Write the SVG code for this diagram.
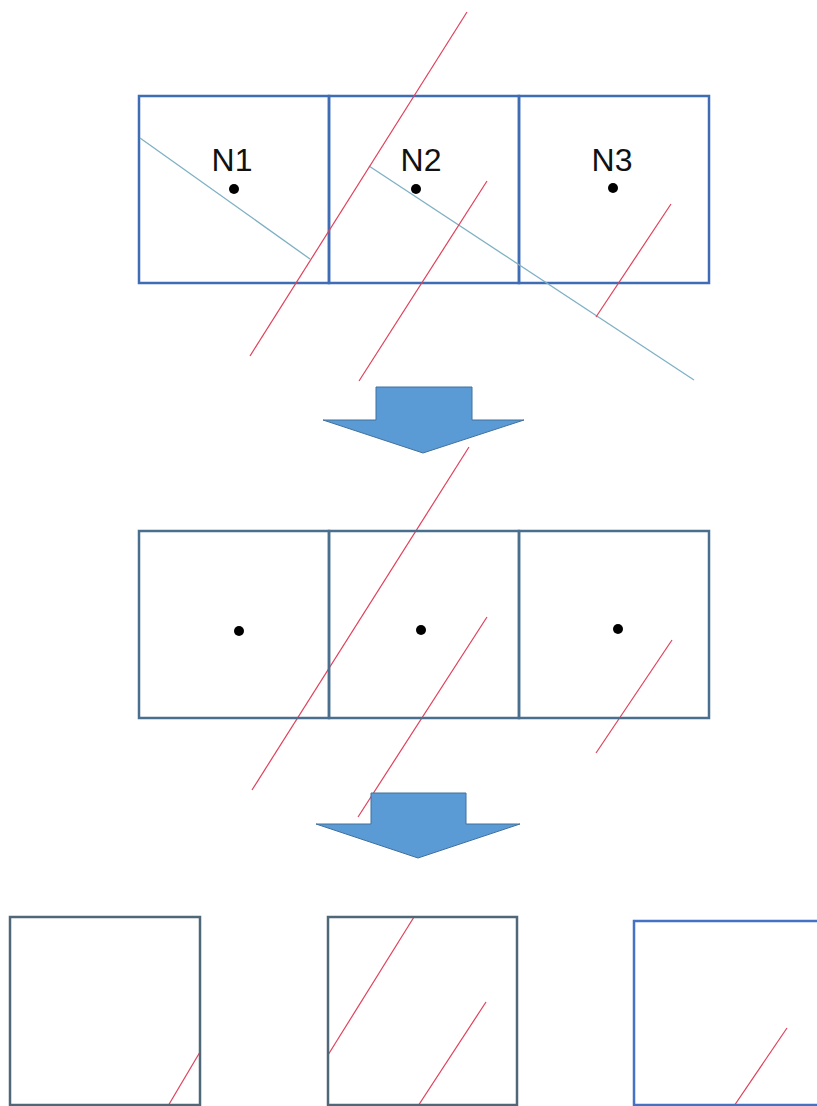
<svg xmlns="http://www.w3.org/2000/svg" width="817" height="1106" viewBox="0 0 817 1106">
<style>
.cellA{fill:none;stroke:#3f6db5;stroke-width:2.5}
.cellB{fill:none;stroke:#4a6f8e;stroke-width:2.5}
.cellC{fill:none;stroke:#4f6878;stroke-width:2.5}
.cellD{fill:none;stroke:#4472c4;stroke-width:2.5}
.red{stroke:#e0405a;stroke-width:1.2;fill:none}
.ray{stroke:#7fb0c4;stroke-width:1.3;fill:none}
.dot{fill:#000}
.lbl{font-family:"Liberation Sans",Arial,sans-serif;font-size:32px;fill:#111;text-anchor:middle}
.arrow{fill:#5b9bd5;stroke:#41719c;stroke-width:1}
</style>
<rect width="817" height="1106" fill="#fff"/>
<g id="top-grid">
  <g id="N1"><rect class="cellA" x="139" y="96" width="190" height="187"/><text class="lbl" x="232" y="171">N1</text><circle class="dot" cx="234" cy="189" r="5"/></g>
  <g id="N2"><rect class="cellA" x="329" y="96" width="190" height="187"/><text class="lbl" x="421" y="171">N2</text><circle class="dot" cx="416" cy="189" r="5"/></g>
  <g id="N3"><rect class="cellA" x="519" y="96" width="190" height="187"/><text class="lbl" x="612" y="171">N3</text><circle class="dot" cx="613" cy="188" r="5"/></g>
</g>
<g id="connectors">
  <line class="ray" x1="140" y1="138" x2="310" y2="259"/>
  <line class="ray" x1="369" y1="166" x2="694" y2="380"/>
  <line class="red" x1="467" y1="12" x2="250" y2="356"/>
  <line class="red" x1="487" y1="181" x2="359" y2="381"/>
  <line class="red" x1="671" y1="204" x2="596" y2="317"/>
  <line class="red" x1="469" y1="447" x2="252" y2="790"/>
  <line class="red" x1="487" y1="617" x2="358" y2="817"/>
  <line class="red" x1="672" y1="640" x2="596" y2="753"/>
  <line class="red" x1="200" y1="1052" x2="168" y2="1106"/>
  <line class="red" x1="414" y1="917" x2="328" y2="1055"/>
  <line class="red" x1="486" y1="1002" x2="418" y2="1106"/>
  <line class="red" x1="787" y1="1028" x2="734" y2="1106"/>
</g>
<g id="mid-grid">
  <g id="M1"><rect class="cellB" x="139" y="531" width="190" height="187"/><circle class="dot" cx="239" cy="631" r="5"/></g>
  <g id="M2"><rect class="cellB" x="329" y="531" width="190" height="187"/><circle class="dot" cx="421" cy="630" r="5"/></g>
  <g id="M3"><rect class="cellB" x="519" y="531" width="190" height="187"/><circle class="dot" cx="618" cy="629" r="5"/></g>
</g>
<g id="arrow1"><path class="arrow" d="M376,387 H472 V420 H524 L423,453 L323,420 H376 Z"/></g>
<g id="arrow2"><path class="arrow" d="M371,793 H466 V824 H520 L418,858 L316,824 H371 Z"/></g>
<g id="bottom">
  <g id="B1"><rect class="cellC" x="10" y="917" width="190" height="188"/></g>
  <g id="B2"><rect class="cellC" x="328" y="917" width="189" height="188"/></g>
  <g id="B3"><rect class="cellD" x="634" y="921" width="200" height="184"/></g>
</g>
</svg>
